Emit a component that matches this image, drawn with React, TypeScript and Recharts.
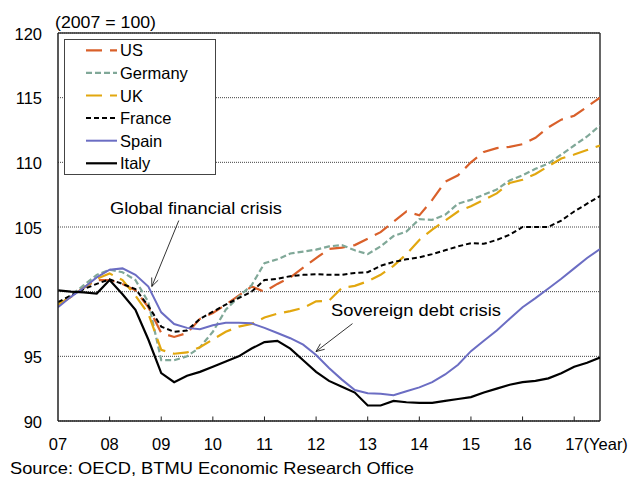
import React from "react";
import { LineChart, Line, XAxis, YAxis, CartesianGrid, ReferenceLine } from "recharts";

const FONT = '"Liberation Sans", Arial, sans-serif';

// quarterly, 2007Q1 .. 2017Q3 (2007 = 100)
const quarters = [
  "07Q1", "07Q2", "07Q3", "07Q4", "08Q1", "08Q2", "08Q3", "08Q4",
  "09Q1", "09Q2", "09Q3", "09Q4", "10Q1", "10Q2", "10Q3", "10Q4",
  "11Q1", "11Q2", "11Q3", "11Q4", "12Q1", "12Q2", "12Q3", "12Q4",
  "13Q1", "13Q2", "13Q3", "13Q4", "14Q1", "14Q2", "14Q3", "14Q4",
  "15Q1", "15Q2", "15Q3", "15Q4", "16Q1", "16Q2", "16Q3", "16Q4",
  "17Q1", "17Q2", "17Q3",
];
const yearLabels = ["07", "08", "09", "10", "11", "12", "13", "14", "15", "16", "17"];
const yTicks = [90, 95, 100, 105, 110, 115, 120];

const us = [
  99.0, 99.6, 100.3, 100.9, 100.9, 100.6, 100.1, 98.8, 96.8, 96.5,
  96.8, 97.9, 98.35, 99.0, 99.7, 100.4, 100.0, 100.6, 101.1, 101.85,
  102.6, 103.3, 103.4, 103.6, 104.1, 104.6, 105.4, 106.2, 105.9, 107.1,
  108.5, 109.0, 110.0, 110.8, 111.1, 111.2, 111.4, 111.9, 112.7, 113.3,
  113.6, 114.3, 115.0,
];
const germany = [
  99.0, 99.7, 100.5, 101.3, 101.7, 101.5, 100.9, 99.2, 94.7, 94.7,
  95.0, 95.7, 96.9, 98.6, 99.6, 100.5, 102.2, 102.5, 102.95, 103.1,
  103.25, 103.5, 103.6, 103.2, 102.9, 103.5, 104.3, 104.65, 105.6, 105.55,
  105.95, 106.8, 107.1, 107.5, 107.9, 108.6, 109.0, 109.5, 109.9, 110.6,
  111.3, 112.0, 112.85,
];
const uk = [
  99.0, 99.6, 100.3, 101.0, 101.4, 100.9, 99.7, 98.3, 95.5, 95.2,
  95.3, 95.7, 96.3, 96.9, 97.3, 97.5, 98.0, 98.3, 98.5, 98.75,
  99.25, 99.3, 100.3, 100.45, 100.8, 101.3, 102.0, 102.9, 104.0, 104.8,
  105.5, 106.2, 106.6, 107.1, 107.6, 108.4, 108.65, 109.1, 109.7, 110.3,
  110.6, 110.95, 111.3,
];
const france = [
  99.2, 99.7, 100.2, 100.6, 100.95, 100.6, 100.2, 98.9, 97.3, 96.9,
  97.0, 97.9, 98.45, 99.0, 99.5, 100.0, 100.9, 101.0, 101.2, 101.3,
  101.35, 101.3, 101.3, 101.45, 101.5, 102.0, 102.3, 102.5, 102.65, 102.9,
  103.2, 103.5, 103.75, 103.7, 104.0, 104.4, 105.0, 105.0, 105.0, 105.5,
  106.2, 106.8, 107.4,
];
const spain = [
  98.8, 99.6, 100.3, 101.1, 101.7, 101.8, 101.3, 100.4, 98.4, 97.5,
  97.2, 97.1, 97.4, 97.6, 97.6, 97.55, 97.2, 96.8, 96.4, 95.9,
  95.1, 94.1, 93.2, 92.4, 92.15, 92.1, 92.0, 92.3, 92.6, 93.0,
  93.6, 94.35, 95.4, 96.2, 97.0, 97.9, 98.8, 99.5, 100.25, 101.0,
  101.8, 102.6, 103.3,
];
const italy = [
  100.1, 100.0, 99.95, 99.85, 100.9, 99.8, 98.6, 96.3, 93.7, 93.0,
  93.5, 93.8, 94.2, 94.6, 95.0, 95.6, 96.1, 96.2, 95.6, 94.7,
  93.8, 93.1, 92.65, 92.2, 91.2, 91.2, 91.55, 91.45, 91.4, 91.4,
  91.55, 91.7, 91.85, 92.2, 92.5, 92.8, 93.0, 93.1, 93.3, 93.7,
  94.2, 94.5, 94.9,
];

type Series = { key: string; values: number[]; color: string; width: number; dash?: string };

const SERIES: Series[] = [
  { key: "US", values: us, color: "#D9602A", width: 2.2, dash: "16 8" },
  { key: "Germany", values: germany, color: "#80A898", width: 2.2, dash: "6 3" },
  { key: "UK", values: uk, color: "#E2A70F", width: 2.2, dash: "16 8" },
  { key: "France", values: france, color: "#000000", width: 2, dash: "5 3" },
  { key: "Spain", values: spain, color: "#6B6DC3", width: 2 },
  { key: "Italy", values: italy, color: "#000000", width: 2.2 },
];

const data = quarters.map((label, i) => {
  const row: Record<string, number | string> = { i, label };
  SERIES.forEach((s) => (row[s.key] = s.values[i]));
  return row;
});

const yearTickPos = yearLabels.map((_, k) => k * 4);
const lastIdx = quarters.length - 1;

// annotation arrows, in data coords (quarter index, index value)
const gfcArrow = [{ x: 9.36, y: 105.5 }, { x: 7.27, y: 100.4 }];
const sovArrow = [{ x: 22.82, y: 97.53 }, { x: 19.99, y: 95.37 }];

const Arrow = (props: any) => {
  const { x1, y1, x2, y2 } = props;
  const ang = Math.atan2(y2 - y1, x2 - x1);
  const len = 9;
  const spread = 0.4;
  const p1 = [x2 - len * Math.cos(ang - spread), y2 - len * Math.sin(ang - spread)];
  const p2 = [x2 - len * Math.cos(ang + spread), y2 - len * Math.sin(ang + spread)];
  return (
    <g>
      <line x1={x1} y1={y1} x2={x2} y2={y2} stroke="#000" strokeWidth={0.8} />
      <polyline
        points={`${p1[0]},${p1[1]} ${x2},${y2} ${p2[0]},${p2[1]}`}
        fill="none"
        stroke="#000"
        strokeWidth={0.8}
      />
    </g>
  );
};

const XTick = (props: any) => {
  const { x, y, payload } = props;
  const label = yearLabels[Math.round(payload.value / 4)];
  if (label === "17") {
    return (
      <text x={x - 9} y={y + 29} textAnchor="start" fontSize={16.5} fontFamily={FONT} fill="#000">
        17(Year)
      </text>
    );
  }
  return (
    <text x={x} y={y + 29} textAnchor="middle" fontSize={16.5} fontFamily={FONT} fill="#000">
      {label}
    </text>
  );
};

const YTick = (props: any) => {
  const { x, y, payload } = props;
  return (
    <text x={x} y={y + 6.5} textAnchor="end" fontSize={16.5} fontFamily={FONT} fill="#000">
      {payload.value}
    </text>
  );
};

function LegendBox() {
  return (
    <svg
      width={152}
      height={136}
      style={{ position: "absolute", left: 64, top: 39 }}
    >
      <rect x={0.5} y={0.5} width={151} height={135} fill="#fff" stroke="#444" strokeWidth={1} />
      {SERIES.map((s, k) => {
        const cy = 11.3 + k * 22.6;
        return (
          <g key={s.key}>
            <line
              x1={22}
              x2={53}
              y1={cy}
              y2={cy}
              stroke={s.color}
              strokeWidth={s.width}
              strokeDasharray={s.dash}
            />
            <text x={56} y={cy + 6} fontSize={16.5} fontFamily={FONT} fill="#000">
              {s.key}
            </text>
          </g>
        );
      })}
    </svg>
  );
}

export default function App() {
  return (
    <div
      style={{
        position: "fixed",
        left: 0,
        top: 0,
        width: 636,
        height: 477,
        background: "#fff",
        fontFamily: FONT,
      }}
    >
      <LineChart
        width={636}
        height={477}
        data={data}
        margin={{ top: 33, right: 36, left: 0, bottom: 16 }}
      >
        <CartesianGrid horizontal vertical={false} stroke="#444" strokeDasharray="1 1" />
        <XAxis
          dataKey="i"
          type="number"
          domain={[0, lastIdx]}
          ticks={yearTickPos}
          tick={<XTick />}
          tickLine={false}
          tickSize={0}
          tickMargin={0}
          height={40}
          axisLine={{ stroke: "#222", strokeWidth: 1.5 }}
          allowDataOverflow
        />
        <YAxis
          type="number"
          domain={[90, 120]}
          ticks={yTicks}
          tick={<YTick />}
          tickLine={false}
          tickSize={0}
          tickMargin={16}
          width={58}
          axisLine={{ stroke: "#222", strokeWidth: 1.5 }}
          allowDataOverflow
        />
        <ReferenceLine y={120} stroke="#333" strokeWidth={1.5} />
        <ReferenceLine x={lastIdx} stroke="#333" strokeWidth={1.5} />
        {yearTickPos.slice(1).map((p) => (
          <ReferenceLine
            key={p}
            segment={[{ x: p, y: 90 }, { x: p, y: 90.35 }]}
            stroke="#222"
            strokeWidth={1}
          />
        ))}
        {SERIES.map((s) => (
          <Line
            key={s.key}
            dataKey={s.key}
            type="linear"
            stroke={s.color}
            strokeWidth={s.width}
            strokeDasharray={s.dash}
            dot={false}
            activeDot={false}
            isAnimationActive={false}
          />
        ))}
        <ReferenceLine segment={gfcArrow} shape={Arrow} />
        <ReferenceLine segment={sovArrow} shape={Arrow} />
      </LineChart>

      <svg
        width={636}
        height={477}
        style={{ position: "absolute", left: 0, top: 0, pointerEvents: "none" }}
      >
        <text x={55} y={27.5} fontSize={16.5} fontFamily={FONT} textLength={101} lengthAdjust="spacingAndGlyphs">
          (2007 = 100)
        </text>
        <text x={110} y={214} fontSize={16.5} fontFamily={FONT} textLength={172} lengthAdjust="spacingAndGlyphs">
          Global financial crisis
        </text>
        <text x={331} y={316} fontSize={16.5} fontFamily={FONT} textLength={170} lengthAdjust="spacingAndGlyphs">
          Sovereign debt crisis
        </text>
        <text x={10} y={474} fontSize={16.5} fontFamily={FONT} textLength={404} lengthAdjust="spacingAndGlyphs">
          Source: OECD, BTMU Economic Research Office
        </text>
      </svg>
      <LegendBox />
    </div>
  );
}
